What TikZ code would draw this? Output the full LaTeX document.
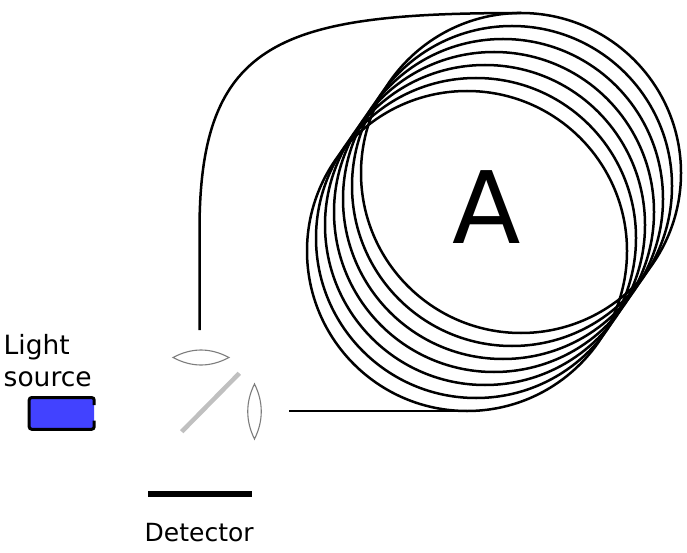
\documentclass[tikz,border=0pt]{standalone}
\usepackage{fontspec}
\setmainfont{DejaVu Sans}
\definecolor{srcblue}{RGB}{66,66,255}
\definecolor{lensgray}{RGB}{125,125,125}
\definecolor{mirrorgray}{RGB}{192,192,192}
\begin{document}
\begin{tikzpicture}[x=1pt,y=-1pt,
  fiber/.style={line width=2.5pt, black},
  lensline/.style={draw=lensgray, line width=1.1pt},
  mirrorline/.style={draw=mirrorgray, line width=4.5pt},
  detbar/.style={line width=5.5pt, black},
  lbl/.style={anchor=base west, inner sep=0pt}]
\useasboundingbox[fill=white] (0,0) rectangle (687,553);

% fibre coil: seven loops
\foreach \k in {0,...,6}{
  \draw[fiber] ({521-9*\k},{173+13*\k}) circle[radius=160pt];
}

% lead ends
\coordinate (tlens) at (199.5,330);
\coordinate (coilTop) at (521,13);
\coordinate (blens) at (289,411);
\coordinate (coilBot) at (467,411);

\draw[fiber] (tlens) -- ++(0,-100) .. controls +(0,-190) and +(-240,0) .. (coilTop);
\draw[fiber] (blens) -- (coilBot);

% big label
\node[anchor=base, inner sep=0pt, font=\fontsize{100}{120}\selectfont] (A) at (487,243) {A};

% lenses
\begin{scope}[shift={(201,357.5)}]
  \draw[lensline] (-28,0) .. controls +(19,-10) and +(-19,-10) .. (28,0)
                          .. controls +(-19,10) and +(19,10) .. (-28,0) -- cycle;
\end{scope}
\begin{scope}[shift={(254.5,411.5)}]
  \draw[lensline] (0,-27.5) .. controls +(9,18) and +(9,-18) .. (0,27.5)
                            .. controls +(-9,-18) and +(-9,18) .. (0,-27.5) -- cycle;
\end{scope}

% beam splitter
\coordinate (m1) at (181.7,431.7);
\coordinate (m2) at (239.3,373.3);
\draw[mirrorline] (m1) -- (m2);

% light source
\node[fill=srcblue, minimum width=65pt, minimum height=31.7pt, inner sep=0pt,
      rounded corners=2.5pt] (src) at (61.7,413.4) {};
\draw[line width=3pt, rounded corners=2.5pt]
  (94.2,405) -- (94.2,397.55) -- (29.2,397.55) -- (29.2,429.25) -- (94.2,429.25) -- (94.2,420.5);

% detector
\coordinate (d1) at (148,494);
\coordinate (d2) at (252,494);
\draw[detbar] (d1) -- (d2);

% texts
\node[lbl, font=\fontsize{26.5}{32}\selectfont] (light) at (3.5,354.5) {Light};
\node[lbl, font=\fontsize{26.5}{32}\selectfont] (source) at (3.5,386.5) {source};
\node[lbl, font=\fontsize{25}{30}\selectfont] (det) at (144.5,541) {Detector};
\end{tikzpicture}
\end{document}
